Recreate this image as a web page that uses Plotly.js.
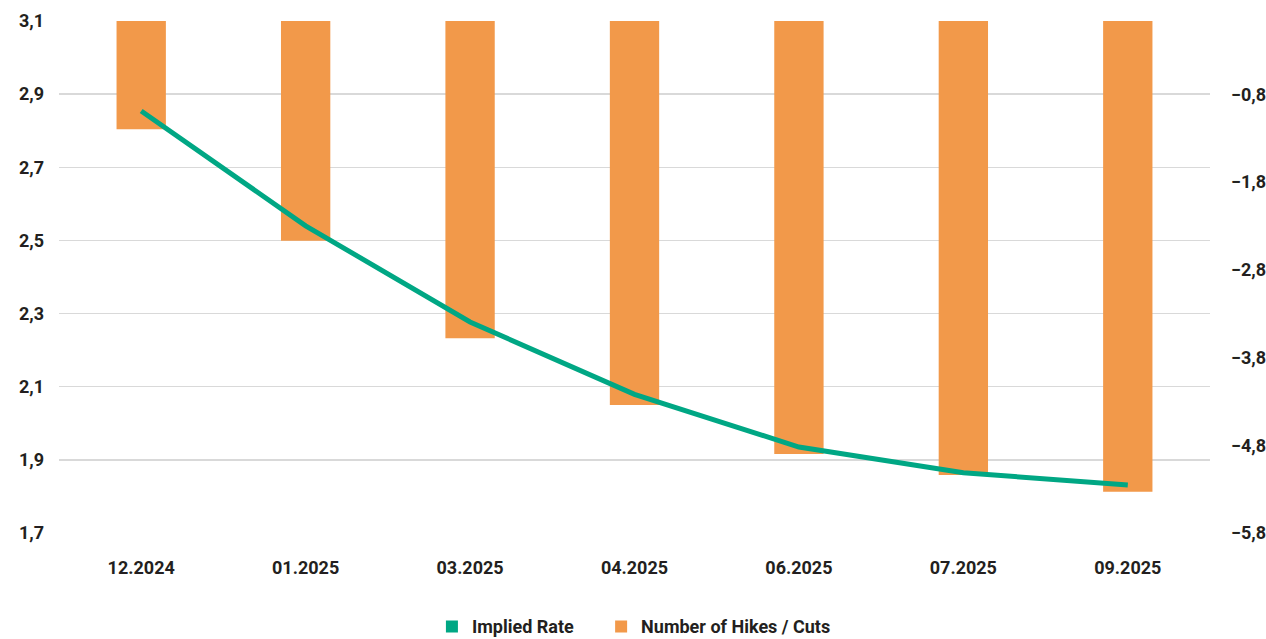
<!DOCTYPE html>
<html>
<head>
<meta charset="utf-8">
<script src="https://cdn.plot.ly/plotly-3.0.1.min.js"></script>
<style>html,body{margin:0;padding:0;background:#fff;}#chart{width:1266px;height:639px;}</style>
</head>
<body>
<div id="chart"></div>
<script>
const categories = ["12.2024", "01.2025", "03.2025", "04.2025", "06.2025", "07.2025", "09.2025"];
const impliedRate = [2.854, 2.54, 2.277, 2.079, 1.935, 1.865, 1.831];
const hikesCuts = [-1.20, -2.47, -3.58, -4.34, -4.90, -5.14, -5.33];
const leftTicks = [1.7, 1.9, 2.1, 2.3, 2.5, 2.7, 2.9, 3.1];
const rightTicks = [-5.8, -4.8, -3.8, -2.8, -1.8, -0.8];

const GREEN = "#00a784";
const ORANGE = "#f2994a";
const rightMax = 0.035;

const fontBase = {family: "Roboto, 'Open Sans', sans-serif", size: 18, color: "#231f20", weight: 700};

const traces = [
  {
    type: "bar", x: categories, y: hikesCuts.map(v => v - rightMax), base: rightMax,
    name: "Number of Hikes / Cuts", marker: {color: ORANGE}, width: 0.3,
    yaxis: "y", legend: "legend2", hoverinfo: "skip"
  },
  {
    type: "scatter", mode: "lines", x: categories, y: impliedRate,
    name: "Implied Rate", line: {color: GREEN, width: 5}, yaxis: "y2",
    showlegend: false
  },
  {
    type: "bar", x: [categories[0]], y: [null], name: "Implied Rate", marker: {color: GREEN},
    yaxis: "y2", legend: "legend", showlegend: true
  }
];

const legendCommon = {
  orientation: "h", xanchor: "left", y: -0.183, yanchor: "middle",
  font: fontBase, itemwidth: 30, tracegroupgap: 0, bgcolor: "rgba(0,0,0,0)"
};

const layout = {
  width: 1266, height: 639,
  margin: {l: 59, r: 56, t: 21, b: 106, autoexpand: false},
  paper_bgcolor: "#fff", plot_bgcolor: "rgba(0,0,0,0)",
  separators: ",.",
  barmode: "overlay",
  font: fontBase,
  showlegend: true,
  legend: Object.assign({}, legendCommon, {x: 0.324}),
  legend2: Object.assign({}, legendCommon, {x: 0.471}),
  xaxis: {
    type: "category", showgrid: false, zeroline: false, showline: false,
    ticks: "", tickfont: fontBase, ticklabelstandoff: 22
  },
  yaxis: {
    side: "right", range: [-5.8, rightMax], tickvals: rightTicks, tickformat: ".1f",
    showgrid: false, zeroline: false, showline: false, ticks: "",
    tickfont: fontBase, ticklabelstandoff: 20
  },
  yaxis2: {
    overlaying: "y", side: "left", range: [1.7, 3.1], tickvals: leftTicks, tickformat: ".1f",
    showgrid: true, gridcolor: "#d9d9d9", gridwidth: 1.5, zeroline: false, showline: false,
    ticks: "", tickfont: fontBase, ticklabelstandoff: 14
  }
};

Plotly.newPlot("chart", traces, layout, {displayModeBar: false, staticPlot: true});
</script>
</body>
</html>
